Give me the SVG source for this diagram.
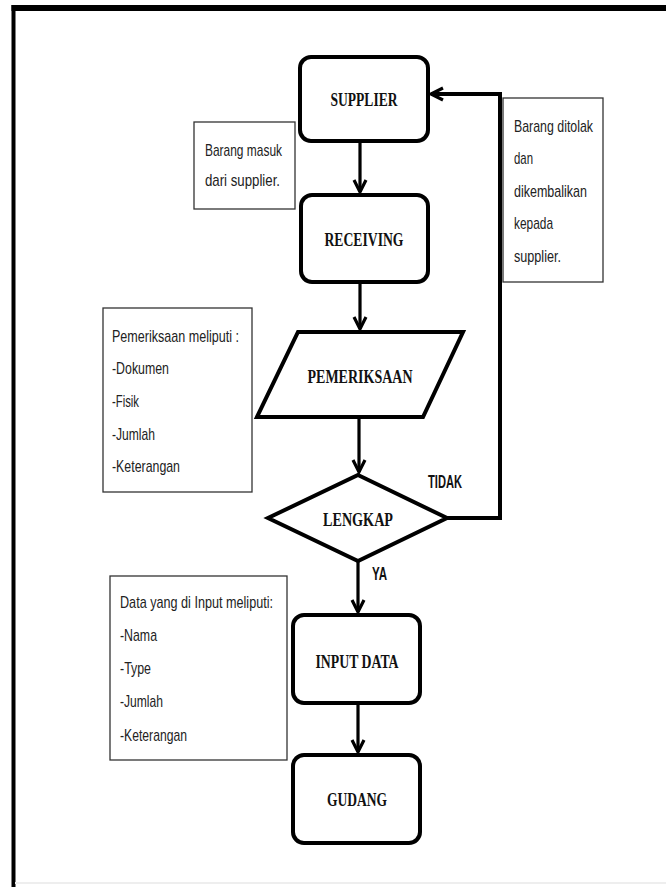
<svg xmlns="http://www.w3.org/2000/svg" width="666" height="887" viewBox="0 0 666 887">
<defs>
<marker id="arr" markerUnits="userSpaceOnUse" markerWidth="20" markerHeight="20" refX="0" refY="0" viewBox="-14 -10 16 20" orient="auto" overflow="visible">
<path d="M-12,-6 L0,0 L-12,6" fill="none" stroke="#000" stroke-width="3.2" stroke-linejoin="miter"/>
</marker>
</defs>
<style>
.box{fill:#fff;stroke:#000;stroke-width:4}
.note{fill:#fff;stroke:#333;stroke-width:1.3}
.lbl{font-family:"Liberation Serif","Times New Roman",serif;font-weight:bold;font-size:19px;fill:#111;text-anchor:middle}
.nt{font-family:"Liberation Sans",Arial,sans-serif;font-size:17px;fill:#222}
.yn{font-family:"Liberation Sans",Arial,sans-serif;font-weight:bold;font-size:18px;fill:#111}
.con{fill:none;stroke:#000;stroke-width:3.2}
</style>
<rect width="666" height="887" fill="#fff"/>
<g id="frame">
<line x1="11.5" y1="8" x2="666" y2="8" stroke="#000" stroke-width="6"/>
<line x1="13.5" y1="5" x2="13.5" y2="887" stroke="#000" stroke-width="4"/>
<line x1="15" y1="883" x2="666" y2="883" stroke="#eee" stroke-width="2"/>
</g>
<g id="connectors">
<line class="con" x1="360" y1="141" x2="360" y2="192" marker-end="url(#arr)"/>
<line class="con" x1="360" y1="282" x2="360" y2="329" marker-end="url(#arr)"/>
<line class="con" x1="359" y1="417" x2="359" y2="472" marker-end="url(#arr)"/>
<line class="con" x1="358" y1="561" x2="358" y2="612" marker-end="url(#arr)"/>
<line class="con" x1="358" y1="703" x2="358" y2="752" marker-end="url(#arr)"/>
<polyline class="con" style="stroke-width:4" points="447,518 500,518 500,94 431,94" marker-end="url(#arr)"/>
<text class="yn" x="428" y="488" textLength="34" lengthAdjust="spacingAndGlyphs">TIDAK</text>
<text class="yn" x="372" y="580" textLength="15" lengthAdjust="spacingAndGlyphs">YA</text>
</g>
<g id="supplier">
<rect class="box" x="300" y="57" width="128" height="84" rx="11"/>
<text class="lbl" x="364" y="106" textLength="67" lengthAdjust="spacingAndGlyphs">SUPPLIER</text>
</g>
<g id="receiving">
<rect class="box" x="301" y="195" width="127" height="87" rx="11"/>
<text class="lbl" x="364" y="246" textLength="79" lengthAdjust="spacingAndGlyphs">RECEIVING</text>
</g>
<g id="pemeriksaan">
<polygon class="box" points="298,332 463,332 423,417 257,417"/>
<text class="lbl" x="360" y="383" textLength="105" lengthAdjust="spacingAndGlyphs">PEMERIKSAAN</text>
</g>
<g id="lengkap">
<polygon class="box" points="358,475 447,518 358,561 268,518"/>
<text class="lbl" x="358" y="526" textLength="70" lengthAdjust="spacingAndGlyphs">LENGKAP</text>
</g>
<g id="input-data">
<rect class="box" x="293" y="615" width="127" height="88" rx="11"/>
<text class="lbl" x="357" y="668" textLength="83" lengthAdjust="spacingAndGlyphs">INPUT DATA</text>
</g>
<g id="gudang">
<rect class="box" x="293" y="755" width="127" height="88" rx="11"/>
<text class="lbl" x="357" y="806" textLength="60" lengthAdjust="spacingAndGlyphs">GUDANG</text>
</g>
<g id="note-masuk">
<rect class="note" x="194" y="122" width="101" height="87"/>
<text class="nt" x="205" y="156" textLength="77" lengthAdjust="spacingAndGlyphs">Barang masuk</text>
<text class="nt" x="205" y="186" textLength="75" lengthAdjust="spacingAndGlyphs">dari supplier.</text>
</g>
<g id="note-ditolak">
<rect class="note" x="503" y="98" width="100" height="184"/>
<text class="nt" x="514" y="132" textLength="79" lengthAdjust="spacingAndGlyphs">Barang ditolak</text>
<text class="nt" x="514" y="164" textLength="19" lengthAdjust="spacingAndGlyphs">dan</text>
<text class="nt" x="514" y="197" textLength="73" lengthAdjust="spacingAndGlyphs">dikembalikan</text>
<text class="nt" x="514" y="229" textLength="39" lengthAdjust="spacingAndGlyphs">kepada</text>
<text class="nt" x="514" y="262" textLength="47" lengthAdjust="spacingAndGlyphs">supplier.</text>
</g>
<g id="note-pemeriksaan">
<rect class="note" x="103" y="308" width="149" height="184"/>
<text class="nt" x="112" y="342" textLength="127" lengthAdjust="spacingAndGlyphs">Pemeriksaan meliputi :</text>
<text class="nt" x="112" y="374" textLength="57" lengthAdjust="spacingAndGlyphs">-Dokumen</text>
<text class="nt" x="112" y="407" textLength="27" lengthAdjust="spacingAndGlyphs">-Fisik</text>
<text class="nt" x="112" y="440" textLength="43" lengthAdjust="spacingAndGlyphs">-Jumlah</text>
<text class="nt" x="112" y="472" textLength="68" lengthAdjust="spacingAndGlyphs">-Keterangan</text>
</g>
<g id="note-input">
<rect class="note" x="110" y="576" width="177" height="184"/>
<text class="nt" x="120" y="608" textLength="153" lengthAdjust="spacingAndGlyphs">Data yang di Input meliputi:</text>
<text class="nt" x="120" y="641" textLength="37" lengthAdjust="spacingAndGlyphs">-Nama</text>
<text class="nt" x="120" y="674" textLength="31" lengthAdjust="spacingAndGlyphs">-Type</text>
<text class="nt" x="120" y="707" textLength="43" lengthAdjust="spacingAndGlyphs">-Jumlah</text>
<text class="nt" x="120" y="741" textLength="67" lengthAdjust="spacingAndGlyphs">-Keterangan</text>
</g>
</svg>
